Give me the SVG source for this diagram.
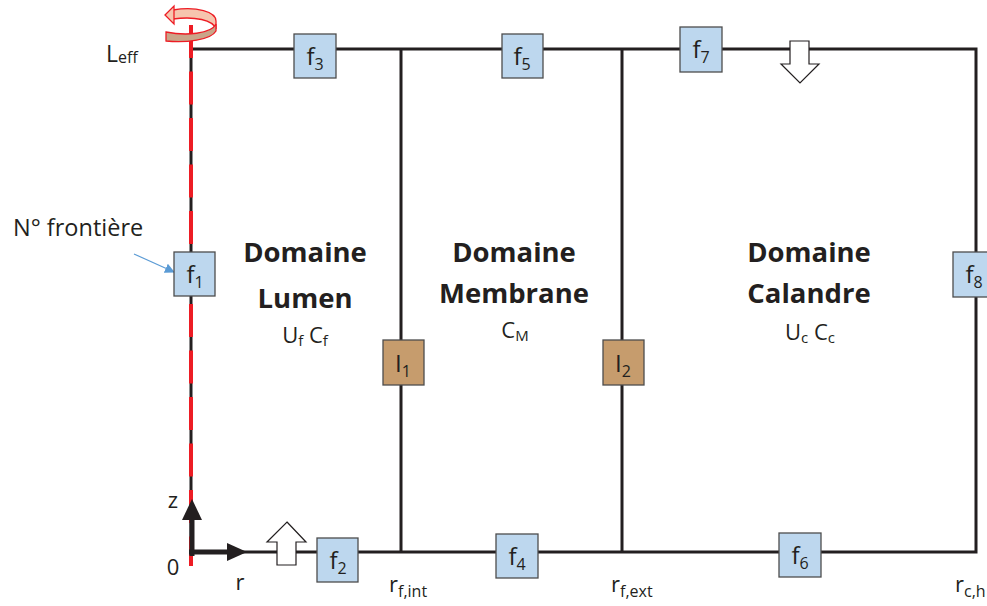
<svg xmlns="http://www.w3.org/2000/svg" width="987" height="606" viewBox="0 0 987 606">
<defs>
<style>
text{font-family:"Open Sans","Liberation Sans",sans-serif;fill:#231f20}
.ln{stroke:#231f20;stroke-width:3;fill:none}
.fb{fill:#bdd7ee;stroke:#4d4d4d;stroke-width:1.3}
.ib{fill:#c69c6d;stroke:#4d4d4d;stroke-width:1.3}
.bl{font-size:24px}
.sb{font-size:16px}
.dom{font-size:27.5px;font-weight:700}
.var{font-size:22px}
.vs{font-size:15px}
.open{fill:#fff;stroke:#231f20;stroke-width:1.2}
</style>
<marker id="blueHead" markerWidth="10" markerHeight="10" refX="9" refY="5" orient="auto" markerUnits="userSpaceOnUse">
<path d="M0,0 L10,5 L0,10 Z" fill="#5b9bd5"/>
</marker>
</defs>
<rect width="987" height="606" fill="#fff"/>

<g id="connectors">
<path class="ln" d="M191,49 H976 V552 H191 Z"/>
<line class="ln" x1="401" y1="49" x2="401" y2="552"/>
<line class="ln" x1="622" y1="49" x2="622" y2="552"/>
<line x1="191" y1="25" x2="191" y2="566" stroke="#ed1c24" stroke-width="4" stroke-dasharray="33 13.5"/>
<line x1="134" y1="254" x2="174" y2="272" stroke="#5b9bd5" stroke-width="1.2" marker-end="url(#blueHead)"/>
</g>

<g id="rotation">
<path d="M173,10 C197,6 216,12 216,21 L216,29 C213,20 195,16 173,19 Z" fill="#f6c5ae" stroke="#ed1c24" stroke-width="1.3"/>
<path d="M165,15 L174,6 L174,24 Z" fill="#f6c5ae" stroke="#ed1c24" stroke-width="1.3"/>
<path d="M166,32 C186,36 211,34 216,24 L216,31 C211,40 186,43 166,41 Z" fill="#c9a589" stroke="#ed1c24" stroke-width="1.3"/>
</g>

<g id="axes">
<line x1="192" y1="556" x2="192" y2="516" stroke="#231f20" stroke-width="5"/>
<path d="M192,499 L202,520 L182,520 Z" fill="#231f20"/>
<line x1="189" y1="552" x2="230" y2="552" stroke="#231f20" stroke-width="5"/>
<path d="M247,552 L227,543 L227,561 Z" fill="#231f20"/>
<text x="173" y="508" font-size="22" text-anchor="middle">z</text>
<text x="173" y="575" font-size="22" text-anchor="middle">0</text>
<text x="240" y="590" font-size="22" text-anchor="middle">r</text>
</g>

<g id="flow-in">
<path class="open" d="M287,522 L306,542 L296,542 L296,565 L277,565 L277,542 L267,542 Z"/>
</g>
<g id="flow-out">
<path class="open" d="M790,41 L809,41 L809,64 L819,64 L800,83 L781,64 L790,64 Z"/>
</g>

<g id="f1"><rect class="fb" x="174" y="252" width="41" height="44"/><text class="bl" x="195" y="283" text-anchor="middle">f<tspan class="sb" dy="5">1</tspan></text></g>
<g id="f2"><rect class="fb" x="317" y="538" width="41" height="44"/><text class="bl" x="338" y="569" text-anchor="middle">f<tspan class="sb" dy="5">2</tspan></text></g>
<g id="f3"><rect class="fb" x="294" y="34" width="42" height="44"/><text class="bl" x="315" y="65" text-anchor="middle">f<tspan class="sb" dy="5">3</tspan></text></g>
<g id="f4"><rect class="fb" x="496" y="534" width="42" height="44"/><text class="bl" x="517" y="565" text-anchor="middle">f<tspan class="sb" dy="5">4</tspan></text></g>
<g id="f5"><rect class="fb" x="502" y="34" width="41" height="44"/><text class="bl" x="522" y="65" text-anchor="middle">f<tspan class="sb" dy="5">5</tspan></text></g>
<g id="f6"><rect class="fb" x="779" y="533" width="42" height="44"/><text class="bl" x="800" y="564" text-anchor="middle">f<tspan class="sb" dy="5">6</tspan></text></g>
<g id="f7"><rect class="fb" x="680" y="27" width="42" height="45"/><text class="bl" x="701" y="58" text-anchor="middle">f<tspan class="sb" dy="5">7</tspan></text></g>
<g id="f8"><rect class="fb" x="953" y="252" width="42" height="45"/><text class="bl" x="974" y="283" text-anchor="middle">f<tspan class="sb" dy="5">8</tspan></text></g>
<g id="I1"><rect class="ib" x="383" y="340" width="41" height="45"/><text class="bl" x="403" y="372" text-anchor="middle">I<tspan class="sb" dy="5">1</tspan></text></g>
<g id="I2"><rect class="ib" x="603" y="340" width="41" height="45"/><text class="bl" x="623" y="372" text-anchor="middle">I<tspan class="sb" dy="5">2</tspan></text></g>

<g id="domaine-lumen">
<text class="dom" x="305" y="262" text-anchor="middle">Domaine</text>
<text class="dom" x="305" y="308" text-anchor="middle">Lumen</text>
<text class="var" x="305" y="343" text-anchor="middle">U<tspan class="vs" dy="3">f</tspan><tspan dy="-3"> C</tspan><tspan class="vs" dy="3">f</tspan></text>
</g>
<g id="domaine-membrane">
<text class="dom" x="514" y="262" text-anchor="middle">Domaine</text>
<text class="dom" x="514" y="303" text-anchor="middle">Membrane</text>
<text class="var" x="515" y="338" text-anchor="middle">C<tspan class="vs" dy="3">M</tspan></text>
</g>
<g id="domaine-calandre">
<text class="dom" x="809" y="262" text-anchor="middle">Domaine</text>
<text class="dom" x="809" y="303" text-anchor="middle">Calandre</text>
<text class="var" x="810" y="340" text-anchor="middle">U<tspan class="vs" dy="3">c</tspan><tspan dy="-3"> C</tspan><tspan class="vs" dy="3">c</tspan></text>
</g>

<g id="labels">
<text x="106" y="62" font-size="23">L<tspan font-size="16" dy="1">eff</tspan></text>
<text x="13" y="236" font-size="23.5">N° frontière</text>
<text x="389" y="592" font-size="22">r<tspan font-size="16" dy="5">f,int</tspan></text>
<text x="611" y="592" font-size="22">r<tspan font-size="16" dy="5">f,ext</tspan></text>
<text x="955" y="592" font-size="22">r<tspan font-size="16" dy="5">c,h</tspan></text>
</g>
</svg>
